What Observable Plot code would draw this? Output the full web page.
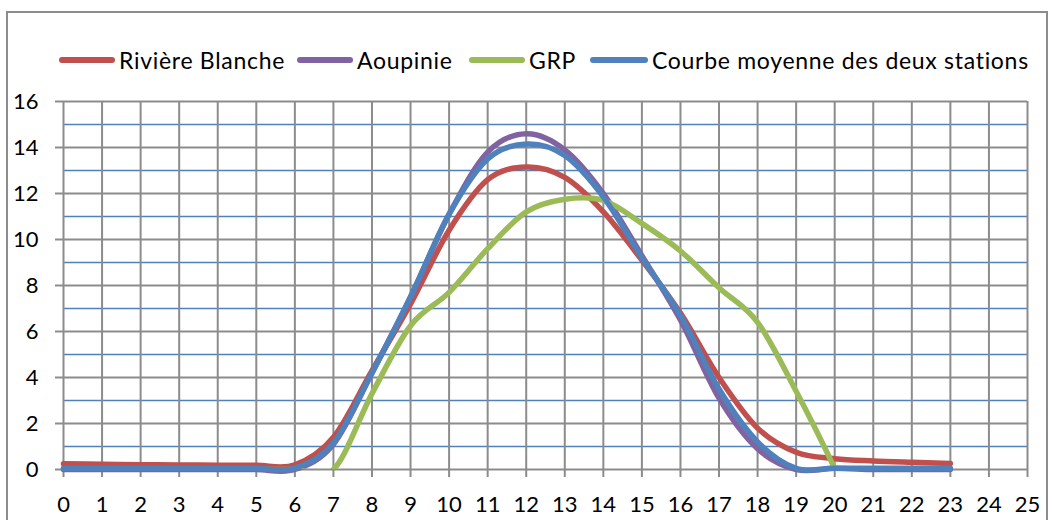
<!DOCTYPE html>
<html>
<head>
<meta charset="utf-8">
<script src="https://cdn.jsdelivr.net/npm/d3@7"></script>
<script src="https://cdn.jsdelivr.net/npm/@observablehq/plot@0.6"></script>
<style>
  html, body { margin: 0; padding: 0; background: #fff; }
  #wrap { position: relative; width: 1052px; height: 520px; overflow: hidden; font-family: Lato, "Open Sans", sans-serif; }
  #frame { position: absolute; left: 6px; top: 11px; width: 1042px; height: 560px; border: 2px solid #8c8c8c; box-sizing: border-box; }
  #chart { position: absolute; left: 0; top: 0; }
  #legend { position: absolute; left: 0; top: 43px; height: 34px; width: 1052px; }
  .item { position: absolute; top: 0; height: 34px; display: flex; align-items: center; font-size: 23px; letter-spacing: 0.7px; color: #000; white-space: nowrap; }
  .sw { display: inline-block; height: 6px; border-radius: 3px; margin-right: 4px; }
</style>
</head>
<body>
<div id="wrap">
  <div id="frame"></div>
  <div id="chart"></div>
  <div id="legend"></div>
</div>
<script>
const hours = d3.range(0, 24);
const grpHours = d3.range(0, 21);
const seriesNames = ["Rivière Blanche", "Aoupinie", "GRP", "Courbe moyenne des deux stations"];
const seriesColors = ["#c0504d", "#8064a2", "#9bbb59", "#4f81bd"];
const riviereBlanche = [0.25, 0.23, 0.21, 0.2, 0.19, 0.18, 0.2, 1.4, 4.3, 7.2, 10.4, 12.6, 13.15, 12.7, 11.2, 9.1, 6.8, 4.0, 1.8, 0.75, 0.47, 0.37, 0.31, 0.26];
const aoupinie = [0, 0, 0, 0, 0, 0, 0, 1.1, 4.2, 7.5, 11.1, 13.8, 14.6, 13.9, 12.0, 9.3, 6.5, 3.1, 0.9, 0, 0.05, 0, 0, 0];
const grp = [0, 0, 0, 0, 0, 0, 0, 0, 3.3, 6.25, 7.7, 9.6, 11.2, 11.75, 11.7, 10.7, 9.5, 7.9, 6.4, 3.4, 0.05];
const moyenne = [0.05, 0.05, 0.05, 0.05, 0.05, 0.05, 0.06, 1.15, 4.2, 7.5, 11.1, 13.5, 14.15, 13.65, 11.85, 9.2, 6.7, 3.5, 1.2, 0.05, 0.05, 0.05, 0.05, 0.05];
const xTicks = d3.range(0, 26);
const yTicksLabeled = d3.range(0, 17, 2);
const yOddLines = d3.range(1, 16, 2);

const toRows = (xs, ys) => xs.map((x, i) => ({x, y: ys[i]}));
const lines = [
  toRows(hours, riviereBlanche),
  toRows(hours, aoupinie),
  toRows(grpHours, grp),
  toRows(hours, moyenne)
];

const gray = "#8c8c8c";
const chart = Plot.plot({
  width: 1052,
  height: 520,
  marginLeft: 63,
  marginRight: 25,
  marginTop: 101,
  marginBottom: 51,
  style: {fontFamily: "Lato, 'Open Sans', sans-serif", background: "transparent", color: "#000"},
  x: {domain: [0, 25]},
  y: {domain: [0, 16]},
  marks: [
    Plot.ruleY(yOddLines, {stroke: "#4f81bd", strokeWidth: 1.6}),
    Plot.ruleY(yTicksLabeled, {stroke: gray, strokeWidth: 2}),
    Plot.ruleX(xTicks, {y1: 0, y2: 16, stroke: gray, strokeWidth: 2}),
    Plot.axisX({ticks: xTicks, tickSize: 8, tickPadding: 19, fontSize: 22, stroke: gray, strokeWidth: 2, fill: "#000", label: null}),
    Plot.axisY({ticks: yTicksLabeled, tickSize: 8, tickPadding: 17, fontSize: 22, stroke: gray, strokeWidth: 2, fill: "#000", label: null}),
    ...lines.map((data, i) => Plot.line(data, {x: "x", y: "y", stroke: seriesColors[i], strokeWidth: 5.5, curve: "cardinal", tension: 0, clip: i === 2}))
  ]
});
document.getElementById("chart").appendChild(chart);

const legendPos = [[59, 56], [297, 56], [469, 56], [590, 58]];
const legend = document.getElementById("legend");
seriesNames.forEach((name, i) => {
  const item = document.createElement("div");
  item.className = "item";
  item.style.left = legendPos[i][0] + "px";
  const sw = document.createElement("span");
  sw.className = "sw";
  sw.style.width = legendPos[i][1] + "px";
  sw.style.background = seriesColors[i];
  item.appendChild(sw);
  item.appendChild(document.createTextNode(name));
  legend.appendChild(item);
});
</script>
</body>
</html>
